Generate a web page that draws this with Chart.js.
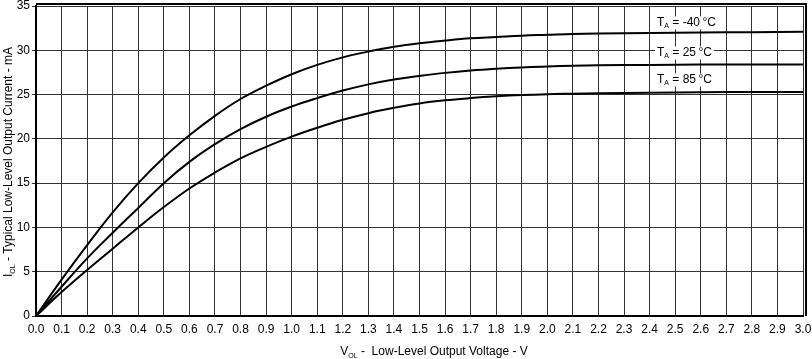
<!DOCTYPE html>
<html>
  <head>
    <meta charset="utf-8">
    <title>IOL vs VOL</title>
    <script src="https://cdn.jsdelivr.net/npm/chart.js"></script>
    <style>
      body { margin: 0; background: #fff; }
      #wrap { width: 812px; height: 359px; }
    </style>
  </head>
  <body>
    <div id="wrap"><canvas id="IolChart"></canvas></div>
    <script>
	// V_OL (V)
	const volts = [0, 0.1, 0.2, 0.3, 0.4, 0.5, 0.6, 0.7, 0.8, 0.9, 1.0, 1.1, 1.2, 1.3, 1.4, 1.5, 1.6, 1.7, 1.8, 1.9, 2.0, 2.1, 2.2, 2.4, 2.6, 2.8, 3.0];
	// I_OL (mA) per ambient temperature
	const iolMinus40 = [0, 4.1, 8.0, 11.7, 15.0, 17.9, 20.4, 22.6, 24.5, 26.0, 27.3, 28.35, 29.2, 29.85, 30.4, 30.8, 31.1, 31.35, 31.5, 31.65, 31.75, 31.85, 31.9, 31.95, 32.0, 32.05, 32.1];
	const iol25 = [0, 3.3, 6.5, 9.4, 12.2, 15.0, 17.4, 19.4, 21.1, 22.5, 23.65, 24.6, 25.45, 26.15, 26.7, 27.1, 27.45, 27.72, 27.92, 28.07, 28.17, 28.25, 28.3, 28.35, 28.4, 28.4, 28.4];
	const iol85 = [0, 2.7, 5.2, 7.6, 10.0, 12.3, 14.4, 16.2, 17.8, 19.1, 20.25, 21.25, 22.15, 22.9, 23.5, 24.0, 24.35, 24.6, 24.8, 24.95, 25.05, 25.1, 25.15, 25.2, 25.25, 25.3, 25.3];
	const tempLabels = ['-40', '25', '85'];
	const labelY = [33.15, 29.75, 26.7];

	const FONT = '"Liberation Sans", Arial, sans-serif';

	function toPoints(vals) {
		return volts.map(function(v, i) { return { x: v, y: vals[i] }; });
	}

	function drawSub(ctx, x, y, main, sub, rest, size) {
		ctx.font = size + 'px ' + FONT;
		ctx.fillText(main, x, y);
		let w = ctx.measureText(main).width;
		ctx.font = Math.round(size * 0.6) + 'px ' + FONT;
		ctx.fillText(sub, x + w, y + size * 0.3);
		w += ctx.measureText(sub).width;
		ctx.font = size + 'px ' + FONT;
		ctx.fillText(rest, x + w, y);
		return w + ctx.measureText(rest).width;
	}

	function subWidth(ctx, main, sub, rest, size) {
		ctx.font = size + 'px ' + FONT;
		let w = ctx.measureText(main).width + ctx.measureText(rest).width;
		ctx.font = Math.round(size * 0.6) + 'px ' + FONT;
		return w + ctx.measureText(sub).width;
	}

	const extras = {
		id: 'extras',
		afterDatasetsDraw: function(chart) {
			const ctx = chart.ctx;
			const a = chart.chartArea;
			const ys = chart.scales.y;
			ctx.save();
			// frame
			ctx.strokeStyle = '#000';
			ctx.lineWidth = 2;
			ctx.beginPath();
			ctx.moveTo(a.left, a.top - 2);
			ctx.lineTo(a.right + 3, a.top - 2);
			ctx.lineTo(a.right + 3, a.bottom);
			ctx.stroke();

			// temperature labels
			ctx.fillStyle = '#000';
			ctx.textBaseline = 'middle';
			ctx.textAlign = 'left';
			tempLabels.forEach(function(t, i) {
				const y = ys.getPixelForValue(labelY[i]);
				const rest = ' = ' + t + '\u2009\u00B0C';
				const w = subWidth(ctx, 'T', 'A', rest, 12);
				ctx.fillStyle = '#fff';
				ctx.fillRect(655, y - 6, w + 4, 13);
				ctx.fillStyle = '#000';
				drawSub(ctx, 657, y, 'T', 'A', rest, 12);
			});

			// x axis title
			const xt = subWidth(ctx, 'V', 'OL', ' -  Low-Level Output Voltage - V', 12);
			drawSub(ctx, 434 - xt / 2, 352, 'V', 'OL', ' -  Low-Level Output Voltage - V', 12);

			// y axis title
			ctx.translate(9, 162);
			ctx.rotate(-Math.PI / 2);
			const yt = subWidth(ctx, 'I', 'OL', ' - Typical Low-Level Output Current - mA', 12);
			drawSub(ctx, -yt / 2, 0, 'I', 'OL', ' - Typical Low-Level Output Current - mA', 12);
			ctx.restore();
		}
	};

	const lineStyle = {
		borderColor: '#000',
		backgroundColor: '#000',
		borderWidth: 2,
		pointRadius: 0,
		fill: false,
		tension: 0.4
	};

	const config = {
		type: 'line',
		data: {
			datasets: [
				Object.assign({ label: 'TA = -40°C', data: toPoints(iolMinus40) }, lineStyle),
				Object.assign({ label: 'TA = 25°C', data: toPoints(iol25) }, lineStyle),
				Object.assign({ label: 'TA = 85°C', data: toPoints(iol85) }, lineStyle)
			]
		},
		options: {
			maintainAspectRatio: false,
			responsive: true,
			animation: false,
			layout: { padding: { top: 6, right: 9, left: 0, bottom: 0 } },
			plugins: { legend: { display: false }, tooltip: { enabled: false } },
			scales: {
				x: {
					type: 'linear',
					min: 0,
					max: 3,
					ticks: {
						stepSize: 0.1,
						autoSkip: false,
						maxRotation: 0,
						color: '#000',
						padding: 6,
						font: { family: FONT, size: 12 },
						callback: function(v) { return v.toFixed(1); }
					},
					grid: { color: '#333', lineWidth: 1, drawTicks: false },
					border: { color: '#000', width: 2 },
					afterFit: function(s) { s.height = 43; s.paddingLeft = 0; s.paddingRight = 0; }
				},
				y: {
					min: 0,
					max: 35,
					ticks: {
						stepSize: 5,
						color: '#000',
						padding: 2,
						font: { family: FONT, size: 12 }
					},
					grid: { color: '#333', lineWidth: 1, tickLength: 4 },
					border: { color: '#000', width: 2 },
					afterFit: function(s) { s.width = 36; s.paddingTop = 0; s.paddingBottom = 0; }
				}
			}
		},
		plugins: [extras]
	};

	const IolChart = new Chart(document.getElementById('IolChart'), config);
    </script>
  </body>
</html>
